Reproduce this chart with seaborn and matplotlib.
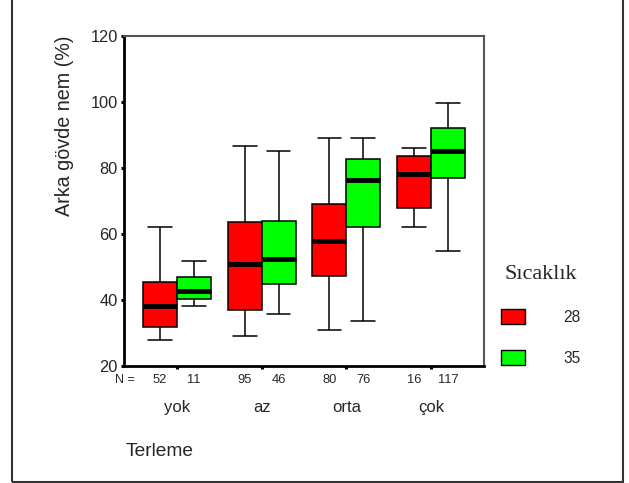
import numpy as np
import pandas as pd
import matplotlib
matplotlib.use("Agg")
import matplotlib.pyplot as plt
from matplotlib.patches import Patch, Rectangle
import seaborn as sns

# Data: five-number summaries (min, Q1, median, Q3, max)
terleme = ["yok", "az", "orta", "çok"]
sicaklik = ["28", "35"]
counts_28 = [52, 95, 80, 16]
counts_35 = [11, 46, 76, 117]
stats_28 = [
    [27.9, 31.8, 38.1, 45.4, 62.0],
    [29.0, 36.9, 50.8, 63.5, 86.8],
    [30.8, 47.4, 57.8, 69.1, 89.1],
    [62.0, 67.8, 78.1, 83.6, 86.2],
]
stats_35 = [
    [38.1, 40.2, 42.7, 46.9, 51.9],
    [35.9, 44.8, 52.3, 64.0, 85.1],
    [33.7, 62.0, 76.4, 82.8, 89.1],
    [54.8, 76.9, 85.1, 92.0, 99.8],
]
colors = ["#FF0000", "#00FF00"]

rows = []
for i, cat in enumerate(terleme):
    for v in stats_28[i]:
        rows.append((cat, "28", v))
    for v in stats_35[i]:
        rows.append((cat, "35", v))
df = pd.DataFrame(rows, columns=["Terleme", "Sıcaklık", "nem"])

sns.set_style("white")
plt.rcParams["font.family"] = ["Liberation Sans", "DejaVu Sans"]

fig = plt.figure(figsize=(6.29, 4.83), dpi=100)
ax = fig.add_axes([124 / 629, 1 - 366 / 483, 360 / 629, 330 / 483])

sns.boxplot(data=df, x="Terleme", y="nem", hue="Sıcaklık", order=terleme,
            hue_order=sicaklik, palette=colors, whis=(0, 100), width=0.8,
            gap=0, linewidth=1.1, linecolor="black", saturation=1,
            showfliers=False, legend=False, capwidths=0.28,
            medianprops={"linewidth": 3.5, "color": "black"}, ax=ax)

ax.set_ylim(20, 120)
ax.set_yticks(np.arange(20, 121, 20))
ax.set_xlim(-0.624, 3.624)
ax.set_xlabel("")
ax.set_ylabel("")
ax.tick_params(axis="y", length=2.5, width=2.2, pad=2, labelsize=11.8,
               direction="out", left=True, color="black")
ax.tick_params(axis="x", length=2.5, width=2.2, pad=22, labelsize=12,
               direction="out", bottom=True, color="black")
for s in ["left", "bottom"]:
    ax.spines[s].set_color("black")
    ax.spines[s].set_linewidth(2)
for s in ["top", "right"]:
    ax.spines[s].set_color("#555555")
    ax.spines[s].set_linewidth(1.5)

# N counts under each box
tr = ax.get_xaxis_transform()
ax.text(0.003, -0.042, "N =", transform=ax.transAxes, ha="center",
        va="center", fontsize=9)
for i in range(len(terleme)):
    ax.text(i - 0.2, -0.042, str(counts_28[i]), transform=tr, ha="center",
            va="center", fontsize=9.3)
    ax.text(i + 0.2, -0.042, str(counts_35[i]), transform=tr, ha="center",
            va="center", fontsize=9.3)

fig.text(64 / 629, 1 - 36 / 483, "Arka gövde nem (%)", rotation=90,
         ha="center", va="top", fontsize=14.2)
fig.text(126 / 629, 1 - 452 / 483, "Terleme", ha="left", va="center",
         fontsize=13.8)

handles = [Patch(facecolor=c, edgecolor="black", linewidth=1) for c in colors]
leg = fig.legend(handles, sicaklik, title="Sıcaklık", loc="upper left",
                 bbox_to_anchor=(493 / 629, 1 - 257 / 483), frameon=False,
                 borderpad=0, fontsize=11.2, handlelength=1.54,
                 handleheight=1.15, handletextpad=2.5, labelspacing=1.6)
leg.get_title().set_fontfamily("Liberation Serif")
leg.get_title().set_fontsize(16)

fig.patches.append(Rectangle((12 / 629, 1.5 / 483), 611 / 629, 1.2,
                             transform=fig.transFigure, fill=False,
                             edgecolor="#333333", linewidth=1.5))

fig.savefig("out.png", dpi=100)
